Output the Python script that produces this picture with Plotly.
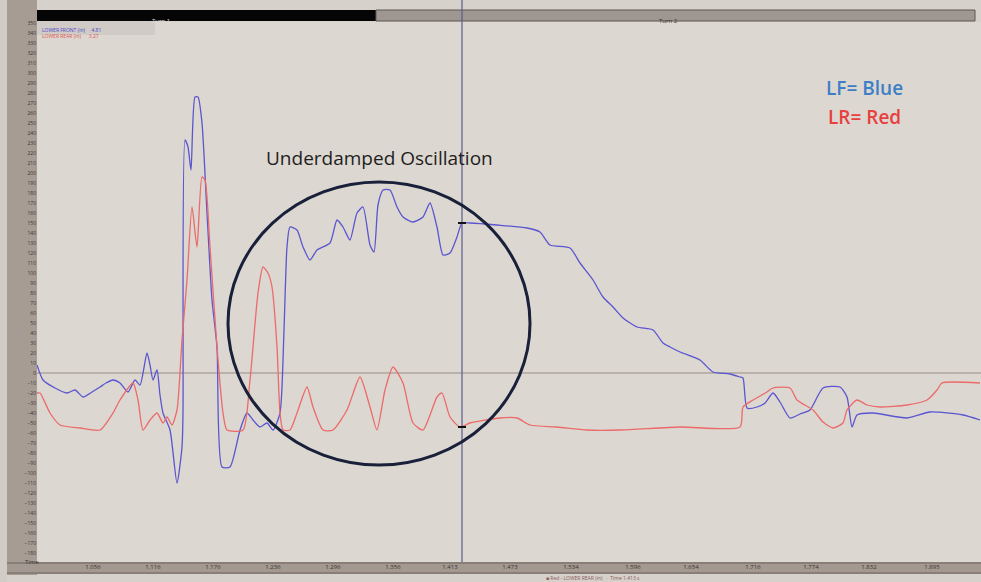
import plotly.graph_objects as go

# Time (ms) and displacement values (LF = blue, LR = red)
lf_t = [0, 6, 18, 30, 38, 46, 55, 63, 69, 76, 83, 91, 98, 103, 110, 113, 116, 120, 123, 126,
        133, 140, 145, 146, 148, 151, 154, 158, 161, 165, 170, 175, 180, 185, 193, 203, 210,
        216, 223, 230, 236, 243, 247, 250, 253, 260, 266, 273, 280, 293, 300, 306, 313, 320,
        326, 333, 337, 341, 346, 353, 360, 366, 376, 386, 393, 400, 406, 413, 420, 425, 433,
        460, 490, 503, 513, 533, 543, 556, 566, 576, 586, 600, 616, 626, 633, 643, 663, 676,
        693, 703, 706, 710, 720, 728, 736, 743, 753, 763, 773, 786, 803, 810, 815, 820, 836,
        870, 893, 926, 943]
lf_v = [8, -7, -15, -20, -17, -24, -19, -14, -10, -7, -10, -19, -7, -12, 20, 8, -7, 3, -22, -40,
        -57, -110, -74, -40, 233, 226, 203, 276, 276, 250, 160, 73, 26, -94, -94, -57, -40,
        -47, -54, -50, -57, -40, 43, 126, 146, 143, 126, 113, 123, 130, 153, 146, 133, 160,
        166, 128, 121, 168, 183, 183, 166, 156, 151, 156, 170, 146, 118, 120, 136, 150, 150,
        148, 145, 141, 128, 125, 110, 93, 76, 66, 55, 46, 43, 30, 26, 21, 13, 1,
        -1, -4, -5, -35, -34, -30, -20, -29, -45, -41, -37, -15, -14, -24, -54, -42, -40,
        -45, -39, -42, -47]

lr_t = [0, 3, 13, 23, 43, 63, 76, 83, 96, 101, 106, 113, 120, 126, 130, 135, 140, 145, 150,
        155, 160, 165, 168, 173, 180, 186, 190, 206, 213, 221, 226, 231, 235, 240, 243, 246,
        253, 260, 270, 276, 286, 296, 310, 323, 333, 340, 348, 356, 366, 376, 386, 400, 405,
        413, 423, 433, 463, 480, 493, 520, 550, 583, 643, 703, 706, 716, 730, 736, 753, 760,
        776, 786, 796, 806, 810, 820, 830, 843, 870, 890, 900, 905, 943]
lr_v = [-20, -20, -40, -52, -55, -57, -40, -27, -10, -27, -57, -47, -40, -50, -44, -52, -37, 33, 93,
        166, 126, 196, 193, 126, 26, -40, -57, -57, -7, 80, 106, 100, 86, 26, -40, -57,
        -57, -40, -14, -34, -57, -57, -37, -4, -34, -57, -17, 6, -10, -50, -57, -24, -20,
        -44, -54, -50, -45, -45, -52, -54, -57, -57, -54, -54, -34, -27, -19, -15, -15, -27,
        -37, -49, -55, -50, -37, -27, -32, -34, -32, -27, -17, -10, -10]

x_ticks = [56, 116, 176, 236, 296, 356, 413, 473, 534, 596, 654, 716, 774, 832, 895]
x_tick_text = ["1.056", "1.116", "1.176", "1.236", "1.296", "1.356", "1.413", "1.473",
               "1.534", "1.596", "1.654", "1.716", "1.774", "1.832", "1.895"]
y_ticks = list(range(-180, 351, 10))

cursor_t = 425
ellipse_t = (191, 493)
ellipse_v = (-92, 191)

fig = go.Figure()
fig.add_trace(go.Scatter(x=lf_t, y=lf_v, mode="lines", name="LF",
                         line=dict(color="#5a55d0", width=1.3, shape="spline", smoothing=0.6)))
fig.add_trace(go.Scatter(x=lr_t, y=lr_v, mode="lines", name="LR",
                         line=dict(color="#ec6a6a", width=1.3, shape="spline", smoothing=0.6)))

W, H = 981, 582
L, R, T, B = 37, 0, 22, 20
pw, ph = W - L - R, H - T - B


def px(x):
    return (x - L) / pw


def py(y):
    return (H - B - y) / ph


shapes = [
    # left axis strip
    dict(type="rect", xref="paper", yref="paper", x0=px(0), x1=px(7), y0=py(582), y1=py(0),
         fillcolor="#d2ccc6", line_width=0, layer="below"),
    dict(type="rect", xref="paper", yref="paper", x0=px(7), x1=px(37), y0=py(575), y1=py(0),
         fillcolor="#a69c94", line_width=0, layer="below"),
    # bottom axis strip
    dict(type="rect", xref="paper", yref="paper", x0=px(7), x1=px(981), y0=py(574), y1=py(562),
         fillcolor="#a39991", line_width=0, layer="below"),
    dict(type="line", xref="paper", yref="paper", x0=px(7), x1=px(981), y0=py(563), y1=py(563),
         line=dict(color="#6e655e", width=1)),
    dict(type="line", xref="paper", yref="paper", x0=px(7), x1=px(981), y0=py(573), y1=py(573),
         line=dict(color="#6e655e", width=1)),
    # header bars
    dict(type="rect", xref="paper", yref="paper", x0=px(37), x1=px(376), y0=py(21), y1=py(10),
         fillcolor="#050505", line_width=0),
    dict(type="rect", xref="paper", yref="paper", x0=px(376), x1=px(975), y0=py(21), y1=py(10),
         fillcolor="#9e9690", line=dict(color="#5e5650", width=1)),
    # legend box
    dict(type="rect", xref="paper", yref="paper", x0=px(37), x1=px(155), y0=py(35), y1=py(21),
         fillcolor="#d0cbc6", line_width=0),
    # zero line
    dict(type="line", xref="paper", yref="y", x0=0, x1=1, y0=0, y1=0,
         line=dict(color="#978d86", width=1), layer="below"),
    # cursor
    dict(type="line", xref="x", yref="paper", x0=cursor_t, x1=cursor_t, y0=0, y1=py(0),
         line=dict(color="#5c5a8e", width=1.2)),
    dict(type="line", xref="x", yref="y", x0=cursor_t - 4, x1=cursor_t + 4, y0=150, y1=150,
         line=dict(color="#111111", width=2)),
    dict(type="line", xref="x", yref="y", x0=cursor_t - 4, x1=cursor_t + 4, y0=-54, y1=-54,
         line=dict(color="#111111", width=2)),
    # circle highlighting the oscillation
    dict(type="circle", xref="x", yref="y", x0=ellipse_t[0], x1=ellipse_t[1],
         y0=ellipse_v[0], y1=ellipse_v[1], line=dict(color="#18203a", width=3)),
]

annotations = [
    dict(text="Underdamped Oscillation", xref="paper", yref="paper", x=px(379), y=py(143),
         showarrow=False, font=dict(family="Open Sans", size=19, color="#1e1e1e")),
    dict(text="LF= Blue", xref="paper", yref="paper", x=px(824), y=py(73), xanchor="left",
         showarrow=False, font=dict(family="Open Sans", size=19, color="#3d7fc6", weight=600)),
    dict(text="LR= Red", xref="paper", yref="paper", x=px(826), y=py(102), xanchor="left",
         showarrow=False, font=dict(family="Open Sans", size=19, color="#e8403f", weight=600)),
    dict(text="Turn 1", xref="paper", yref="paper", x=px(150), y=py(15.5),
         showarrow=False, font=dict(size=6, color="#dddddd")),
    dict(text="Turn 2", xref="paper", yref="paper", x=px(680), y=py(15.5),
         showarrow=False, font=dict(size=6, color="#3a3430")),
    dict(text="LOWER FRONT (in)     4.81", xref="paper", yref="paper", x=px(40), y=py(25),
         xanchor="left", showarrow=False, font=dict(size=5, color="#4a44c8")),
    dict(text="LOWER REAR (in)      3.27", xref="paper", yref="paper", x=px(40), y=py(31),
         xanchor="left", showarrow=False, font=dict(size=5, color="#e05555")),
    dict(text="Time", xref="paper", yref="paper", x=px(23), y=py(568),
         showarrow=False, font=dict(size=6, color="#333333")),
    dict(text="■ Red - LOWER REAR (in)   ·  Time 1.413 s", xref="paper", yref="paper",
         x=px(545), y=py(582), xanchor="left", yanchor="bottom", showarrow=False,
         borderpad=0, font=dict(size=5, color="#8a5a5a")),
]

fig.update_layout(
    width=W, height=H,
    margin=dict(l=L, r=R, t=T, b=B, autoexpand=False),
    paper_bgcolor="#d6d1cb",
    plot_bgcolor="#dcd7d0",
    showlegend=False,
    shapes=shapes,
    annotations=annotations,
    xaxis=dict(range=[0, 944], showgrid=False, zeroline=False, tickmode="array",
               tickvals=x_ticks, ticktext=x_tick_text, ticks="", ticklen=0, automargin=False,
               tickfont=dict(size=6, color="#3a3430"), showline=False),
    yaxis=dict(range=[-189, 351], showgrid=False, zeroline=False, tickmode="array",
               tickvals=y_ticks, ticks="", tickfont=dict(size=5, color="#3a3430"),
               automargin=False, showline=False),
)

fig.write_html("out.html", config={"displayModeBar": False},
               post_script="document.body.style.margin='0';document.body.style.overflow='hidden';")
